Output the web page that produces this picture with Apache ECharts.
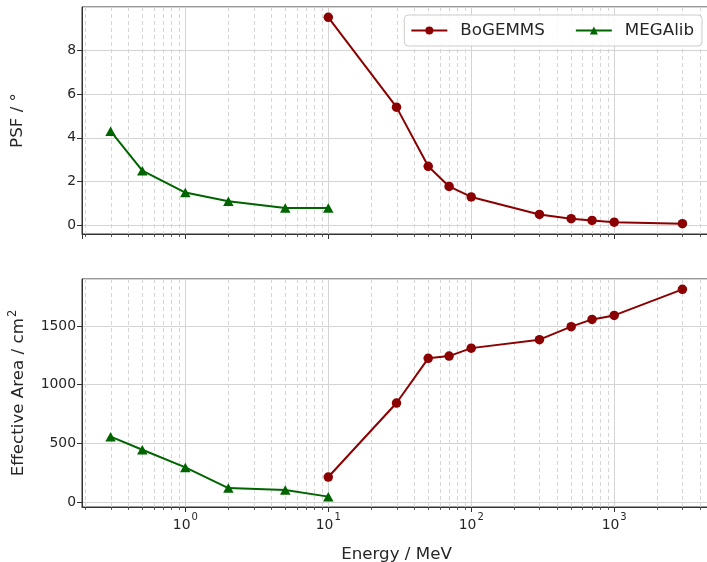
<!DOCTYPE html>
<html><head><meta charset="utf-8">
<script src="https://cdn.jsdelivr.net/npm/echarts@6/dist/echarts.min.js"></script>
<style>html,body{margin:0;padding:0;background:#fff}#c{width:707px;height:562px}</style>
</head><body><div id="c"></div>
<script>
// ---- data ----
const bogemmsEnergy = [10, 30, 50, 70, 100, 300, 500, 700, 1000, 3000];
const bogemmsPSF    = [9.5, 5.4, 2.7, 1.78, 1.3, 0.5, 0.31, 0.23, 0.15, 0.08];
const bogemmsArea   = [213, 844, 1225, 1244, 1312, 1384, 1495, 1557, 1591, 1813];
const megalibEnergy = [0.3, 0.5, 1, 2, 5, 10];
const megalibPSF    = [4.3, 2.5, 1.5, 1.1, 0.8, 0.8];
const megalibArea   = [557, 446, 295, 119, 102, 46];
const minorTickValues = [0.2,0.3,0.4,0.5,0.6,0.7,0.8,0.9, 2,3,4,5,6,7,8,9,
  20,30,40,50,60,70,80,90, 200,300,400,500,600,700,800,900, 2000,3000,4000];

// ---- helpers ----
const FONT = 'DejaVu Sans';
const TXT = '#262626';
const allE = bogemmsEnergy.concat(megalibEnergy);
const lmin = Math.log10(Math.min(...allE)), lmax = Math.log10(Math.max(...allE));
const lm = (lmax - lmin) * 0.05;
const xMin = Math.pow(10, lmin - lm), xMax = Math.pow(10, lmax + lm);
function padRange(arrs) {
  const all = [].concat(...arrs);
  const a = Math.min(...all), b = Math.max(...all), m = (b - a) * 0.05;
  return [a - m, b + m];
}
const psfR = padRange([bogemmsPSF, megalibPSF]);
const areaR = padRange([bogemmsArea, megalibArea]);
const zip = (xs, ys) => xs.map((x, i) => [x, ys[i]]);

function minorRender(params, api) {
  const cs = params.coordSys;
  const x = Math.round(api.coord([api.value(0), api.value(1)])[0]) + 0.5;
  const bottom = cs.y + cs.height;
  return { type: 'group', children: [
    { type: 'line', shape: { x1: x, y1: cs.y, x2: x, y2: bottom },
      style: { stroke: '#d6d6d6', lineWidth: 1, lineDash: [4, 3] } },
    { type: 'line', shape: { x1: x, y1: bottom, x2: x, y2: bottom + 3 },
      style: { stroke: '#333', lineWidth: 0.8 } }
  ]};
}

function xAxisCfg(idx, showLabels) {
  return {
    type: 'log', logBase: 10, gridIndex: idx, min: xMin, max: xMax,
    axisLine: { show: true, onZero: false, lineStyle: { color: '#333', width: 1 } },
    axisTick: { show: true, length: 5, lineStyle: { color: '#333' } },
    axisLabel: {
      show: showLabels, showMinLabel: false, showMaxLabel: false, margin: 5,
      formatter: v => '{b|10}{s|' + Math.round(Math.log10(v)) + '}',
      rich: {
        b: { fontFamily: FONT, fontSize: 13.9, color: TXT, verticalAlign: 'bottom', lineHeight: 20 },
        s: { fontFamily: FONT, fontSize: 10, color: TXT, verticalAlign: 'top', lineHeight: 20, padding: [0, 0, 6, 1] }
      }
    },
    splitLine: { show: true, lineStyle: { color: '#d4d4d4', width: 1 } },
    name: showLabels ? 'Energy / MeV' : '',
    nameLocation: 'middle', nameGap: 39,
    nameTextStyle: { fontFamily: FONT, fontSize: 16.7, color: TXT }
  };
}
function yAxisCfg(idx, range, step, name, rich, gap) {
  return {
    type: 'value', gridIndex: idx, min: range[0], max: range[1],
    minInterval: step, maxInterval: step,
    axisLine: { show: true, onZero: false, lineStyle: { color: '#333', width: 1 } },
    axisTick: { show: true, length: 5, lineStyle: { color: '#333' } },
    axisLabel: { showMinLabel: false, showMaxLabel: false, margin: 6,
      fontFamily: FONT, fontSize: 13.9, color: TXT, formatter: v => String(v) },
    splitLine: { show: true, lineStyle: { color: '#d4d4d4', width: 1 } },
    name: name, nameLocation: 'middle', nameGap: gap,
    nameTextStyle: { fontFamily: FONT, fontSize: 16.7, color: TXT, rich: rich }
  };
}

const series = [];
[0, 1].forEach(i => {
  series.push({
    type: 'custom', xAxisIndex: i, yAxisIndex: i, z: 1, silent: true,
    renderItem: minorRender, data: minorTickValues.map(v => [v, 0]),
    encode: { x: 0, y: 1 }, clip: false, tooltip: { show: false }
  });
  series.push({
    name: 'BoGEMMS', type: 'line', xAxisIndex: i, yAxisIndex: i, z: 3,
    data: zip(bogemmsEnergy, i === 0 ? bogemmsPSF : bogemmsArea),
    symbol: 'circle', symbolSize: 9.5, lineStyle: { color: '#8b0000', width: 2 },
    itemStyle: { color: '#8b0000' }
  });
  series.push({
    name: 'MEGAlib', type: 'line', xAxisIndex: i, yAxisIndex: i, z: 3,
    data: zip(megalibEnergy, i === 0 ? megalibPSF : megalibArea),
    symbol: 'triangle', symbolSize: [10.5, 9.5], lineStyle: { color: '#006400', width: 2 },
    itemStyle: { color: '#006400' }
  });
});

const chart = echarts.init(document.getElementById('c'), null, { renderer: 'canvas' });
chart.setOption({
  animation: false,
  backgroundColor: '#fff',
  grid: [
    { left: 82, top: 7, right: -4, height: 227, show: true, borderColor: '#333', borderWidth: 1,
      backgroundColor: 'transparent', containLabel: false, outerBoundsMode: 'none' },
    { left: 82, top: 279, right: -4, height: 228, show: true, borderColor: '#333', borderWidth: 1,
      backgroundColor: 'transparent', containLabel: false, outerBoundsMode: 'none' }
  ],
  legend: {
    data: ['BoGEMMS', 'MEGAlib'], right: 5, top: 15,
    backgroundColor: 'rgba(255,255,255,0.85)', borderColor: '#ccc', borderWidth: 1, borderRadius: 4,
    padding: [7, 8, 7, 6], itemWidth: 36, itemHeight: 10, itemGap: 30,
    textStyle: { fontFamily: FONT, fontSize: 16.7, color: TXT, padding: [0, 0, 0, 8] }
  },
  xAxis: [xAxisCfg(0, false), xAxisCfg(1, true)],
  yAxis: [
    yAxisCfg(0, psfR, 2, 'PSF / °', undefined, 56),
    yAxisCfg(1, areaR, 500, '{a|Effective Area / cm}{s|2}', {
      a: { fontFamily: FONT, fontSize: 16.7, color: TXT, verticalAlign: 'bottom', lineHeight: 20 },
      s: { fontFamily: FONT, fontSize: 11.5, color: TXT, verticalAlign: 'top', lineHeight: 20, padding: [0, 0, 4, 1] }
    }, 55)
  ],
  series: series
});
</script>
</body></html>
